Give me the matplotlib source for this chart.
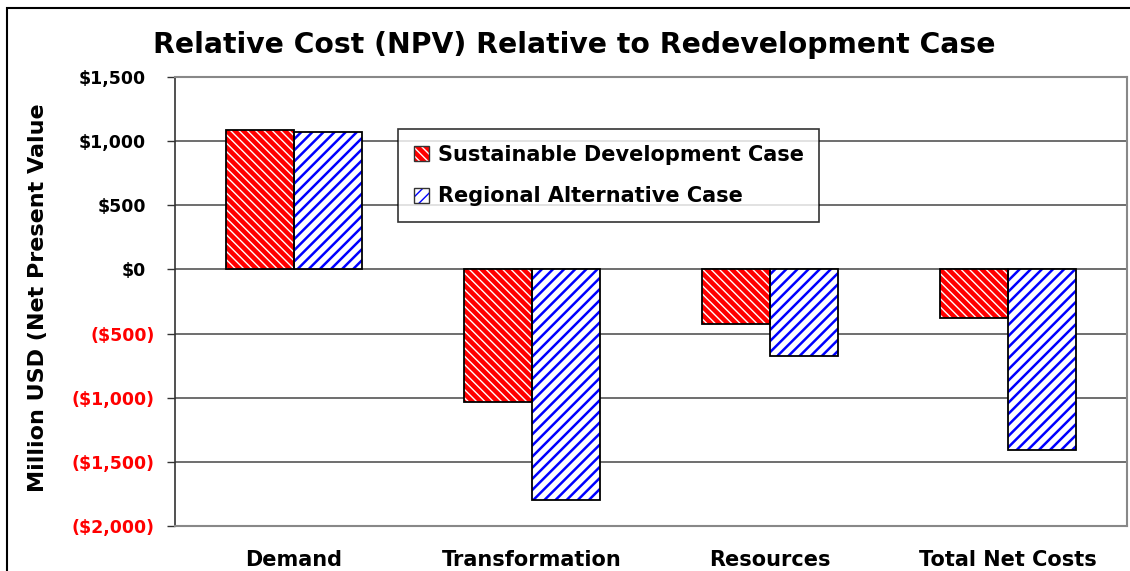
import matplotlib
matplotlib.use("Agg")
import matplotlib.pyplot as plt
import matplotlib.transforms as mtransforms
import numpy as np
from matplotlib.patches import Patch, Rectangle
from matplotlib.ticker import FixedLocator

plt.rcParams['font.family'] = ['DejaVu Sans']

categories = ["Demand", "Transformation", "Resources", "Total Net Costs"]
series_names = ["Sustainable Development Case", "Regional Alternative Case"]
sustainable = [1090, -1035, -425, -380]
regional = [1075, -1800, -675, -1410]
yticks = [1500, 1000, 500, 0, -500, -1000, -1500, -2000]
ytick_labels = ["$1,500", "$1,000", "$500", "$0", "($500)", "($1,000)", "($1,500)", "($2,000)"]
title = "Relative Cost (NPV) Relative to Redevelopment Case"
ylabel = "Million USD (Net Present Value"

W, H = 1130, 571
fig = plt.figure(figsize=(W / 100, H / 100), dpi=100)
fig.patches.append(Rectangle((7 / W, -0.1), 1.2, 1 - 8 / H + 0.1, transform=fig.transFigure,
                             fill=False, edgecolor='black', linewidth=1.5, zorder=0))
ax = fig.add_axes([175 / W, 1 - 526 / H, (1127 - 175) / W, (526 - 77) / H])

x = np.arange(len(categories))
bw = 0.286

RED_STYLE = dict(face='red', hcolor='white', hatch='\\' * 4, hlw=1.0)
BLUE_STYLE = dict(face='white', hcolor='blue', hatch='/' * 3, hlw=1.8)


def set_hlw(patches, lw):
    for p in patches:
        if hasattr(p, 'set_hatch_linewidth'):
            p.set_hatch_linewidth(lw)


def draw_series(vals, offset, st):
    with plt.rc_context({'hatch.linewidth': st['hlw']}):
        bars = ax.bar(x + offset, vals, bw, color=st['face'], edgecolor=st['hcolor'],
                      hatch=st['hatch'], linewidth=0, zorder=2)
    set_hlw(bars, st['hlw'])
    ax.bar(x + offset, vals, bw, fill=False, edgecolor='black', linewidth=1.3, zorder=3)


draw_series(sustainable, -bw / 2, RED_STYLE)
draw_series(regional, bw / 2, BLUE_STYLE)

ax.set_xlim(-0.5, len(categories) - 0.5)
ax.set_ylim(-2000, 1500)
ax.yaxis.set_major_locator(FixedLocator(yticks))
ax.set_yticklabels(ytick_labels, fontsize=12.5, fontweight='bold')
shift = mtransforms.ScaledTranslation(-9 / 100, 0, fig.dpi_scale_trans)
for lab, v in zip(ax.get_yticklabels(), yticks):
    lab.set_color('red' if v < 0 else 'black')
ax.tick_params(axis='y', direction='out', length=6, width=1, color='#333333', pad=8.5)
ax.set_xticks(x)
ax.set_xticklabels(categories, fontsize=15, fontweight='bold')
ax.tick_params(axis='x', length=0, pad=17)
ax.grid(axis='y', color='#555555', linewidth=1.2, zorder=0)
ax.set_axisbelow(True)
for s in ['top', 'right', 'bottom']:
    ax.spines[s].set_color('#888888')
    ax.spines[s].set_linewidth(1.5)
ax.spines['left'].set_color('#333333')
ax.spines['left'].set_linewidth(1.2)

fig.canvas.draw()
for tick, v in zip(ax.yaxis.get_major_ticks(), yticks):
    if v >= 0:
        lab = tick.label1
        lab.set_transform(lab.get_transform() + shift)

fig.text(574 / W, 1 - 45 / H, title, fontsize=20.3, fontweight='bold', ha='center', va='center')
fig.text(38 / W, 1 - 298 / H, ylabel, fontsize=16, fontweight='bold', rotation=90,
         ha='center', va='center')


def legend_handle(st):
    with plt.rc_context({'hatch.linewidth': st['hlw']}):
        p = Patch(facecolor=st['face'], edgecolor=st['hcolor'], hatch=st['hatch'], linewidth=0)
    set_hlw([p], st['hlw'])
    return (p, Patch(fill=False, edgecolor='#333333', linewidth=1))


h1 = legend_handle(RED_STYLE)
h2 = legend_handle(BLUE_STYLE)
leg = ax.legend([h1, h2], series_names, loc='upper left',
                bbox_to_anchor=((398 - 175) / (1127 - 175), (526 - 129) / (526 - 77)),
                prop={'weight': 'bold', 'size': 15}, frameon=True, fancybox=False,
                edgecolor='black', handlelength=0.75, handleheight=0.75, handletextpad=0.4,
                labelspacing=1.05, borderpad=0.75, borderaxespad=0)
leg.get_frame().set_linewidth(1.2)

fig.savefig("out.png", dpi=100)
